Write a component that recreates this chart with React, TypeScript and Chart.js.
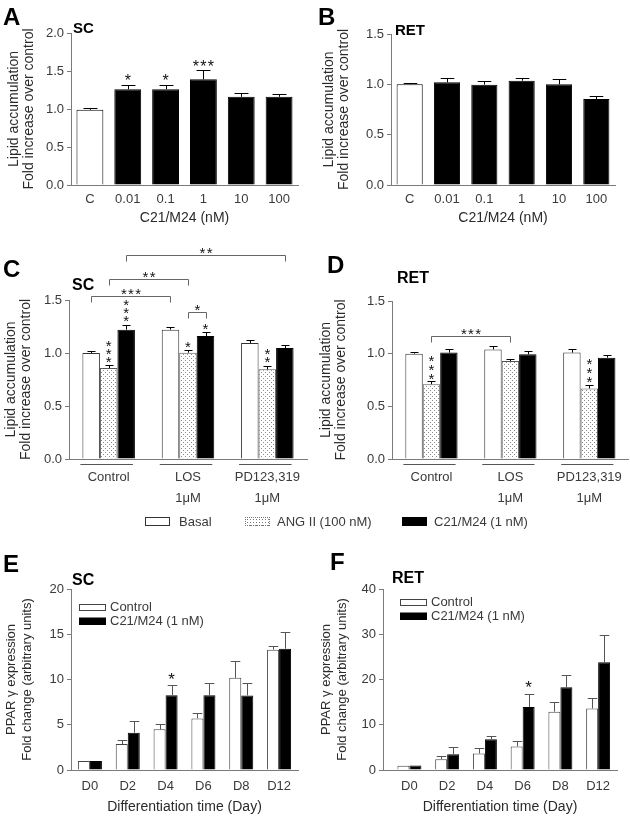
import React, { useEffect, useRef } from "react";
import { Chart, registerables } from "chart.js";
Chart.register(...registerables);

const FONT = "'Liberation Sans', Arial, Helvetica, sans-serif";
const AXIS = "#7a7a7a";
const TXT = "#3a3a3a";
const TICK = 13;

// ---------- Panels A / B : dose response ----------
const doseLabels = ["C", "0.01", "0.1", "1", "10", "100"];
const scDoseMean = [0.99, 1.26, 1.26, 1.39, 1.16, 1.16];
const scDoseErr = [0.02, 0.06, 0.06, 0.12, 0.045, 0.04];
const scDoseStars = [0, 1, 1, 3, 0, 0];
const retDoseMean = [1.0, 1.02, 0.997, 1.036, 1.0, 0.854];
const retDoseErr = [0.017, 0.046, 0.04, 0.03, 0.05, 0.033];

// ---------- Panels C / D : treatments ----------
const treatLabels = [["Control"], ["LOS", "1μM"], ["PD123,319", "1μM"]];
const seriesNames = ["Basal", "ANG II (100 nM)", "C21/M24 (1 nM)"];
const scBasal = [1.0, 1.22, 1.094];
const scBasalErr = [0.02, 0.03, 0.026];
const scAng = [0.858, 1.003, 0.846];
const scAngErr = [0.026, 0.027, 0.034];
const scAngStars = [3, 1, 2];
const scC21 = [1.22, 1.16, 1.047];
const scC21Err = [0.047, 0.04, 0.028];
const scC21Stars = [3, 1, 0];
const scBrackets = [
  { fromDs: 0, fromIdx: 0, toDs: 0, toIdx: 1, y: 1.54, stars: 3 },
  { fromDs: 1, fromIdx: 0, toDs: 1, toIdx: 1, y: 1.7, stars: 2 },
  { fromDs: 2, fromIdx: 0, toDs: 2, toIdx: 2, y: 1.925, stars: 2 },
  { fromDs: 1, fromIdx: 1, toDs: 2, toIdx: 1, y: 1.39, stars: 1 },
];
const retBasal = [1.0, 1.04, 1.01];
const retBasalErr = [0.016, 0.03, 0.03];
const retAng = [0.71, 0.93, 0.67];
const retAngErr = [0.03, 0.023, 0.037];
const retAngStars = [3, 0, 3];
const retC21 = [1.01, 0.994, 0.962];
const retC21Err = [0.03, 0.031, 0.028];
const retBrackets = [{ fromDs: 1, fromIdx: 0, toDs: 1, toIdx: 1, y: 1.165, stars: 3 }];

// ---------- Panels E / F : time course ----------
const timeLabels = ["D0", "D2", "D4", "D6", "D8", "D12"];
const timeNames = ["Control", "C21/M24 (1 nM)"];
const scCtrl = [1.0, 2.87, 4.49, 5.7, 10.18, 13.3];
const scCtrlErr = [0, 0.43, 0.58, 0.55, 1.88, 0.4];
const scC21Time = [1.0, 4.12, 8.27, 8.27, 8.24, 13.4];
const scC21TimeErr = [0, 1.32, 1.1, 1.29, 1.32, 1.86];
const scC21TimeStars = [0, 0, 1, 0, 0, 0];
const retCtrl = [0.95, 2.4, 3.66, 5.2, 12.9, 13.6];
const retCtrlErr = [0, 0.6, 1.14, 1.1, 2.2, 2.4];
const retC21Time = [1.0, 3.5, 6.8, 13.9, 18.3, 23.8];
const retC21TimeErr = [0, 1.6, 0.7, 2.9, 2.8, 6.1];
const retC21TimeStars = [0, 0, 0, 1, 0, 0];

const lipidTitle = ["Lipid accumulation", "Fold increase over control"];
const pparTitle = ["PPAR γ expression", "Fold change (arbitrary units)"];

function dotPattern(): any {
  const c = document.createElement("canvas");
  c.width = 4;
  c.height = 4;
  const g = c.getContext("2d")!;
  g.fillStyle = "#fff";
  g.fillRect(0, 0, 4, 4);
  g.fillStyle = "#8a8a8a";
  g.fillRect(1, 1, 1, 1);
  g.fillRect(3, 3, 1, 1);
  return g.createPattern(c, "repeat");
}

function val(d: any) {
  return typeof d === "number" ? d : d.y;
}

const errorBarPlugin = {
  id: "errbars",
  afterDatasetsDraw(chart: any) {
    const ctx = chart.ctx;
    const ys = chart.scales.y;
    chart.data.datasets.forEach((ds: any, di: number) => {
      if (!ds.errors) return;
      const meta = chart.getDatasetMeta(di);
      meta.data.forEach((el: any, i: number) => {
        const e = ds.errors[i];
        if (!e) return;
        const v = val(ds.data[i]);
        const yt = Math.round(ys.getPixelForValue(v + e)) + 0.5;
        const x = Math.round(el.x) + 0.5;
        const half = el.width * (ds.capRatio ?? 0.26);
        ctx.save();
        ctx.strokeStyle = ds.errColor || "#000";
        ctx.lineWidth = 1;
        ctx.beginPath();
        ctx.moveTo(x, el.y);
        ctx.lineTo(x, yt);
        ctx.moveTo(x - half, yt);
        ctx.lineTo(x + half, yt);
        ctx.stroke();
        ctx.restore();
      });
    });
  },
};

function drawStar(ctx: any, cx: number, cy: number, size: number) {
  ctx.font = `${size}px ${FONT}`;
  ctx.textAlign = "center";
  ctx.textBaseline = "alphabetic";
  ctx.fillText("*", cx, cy + 0.58 * size);
}

function deco(cfg: any) {
  return {
    id: "deco",
    afterDraw(chart: any) {
      const ctx = chart.ctx;
      const ys = chart.scales.y;
      const xs = chart.scales.x;
      ctx.save();
      ctx.fillStyle = "#111";
      const sf = cfg.starFont || 15;
      chart.data.datasets.forEach((ds: any, di: number) => {
        if (!ds.stars) return;
        const meta = chart.getDatasetMeta(di);
        meta.data.forEach((el: any, i: number) => {
          const n = ds.stars[i];
          if (!n) return;
          const top = ys.getPixelForValue(val(ds.data[i]) + ((ds.errors && ds.errors[i]) || 0));
          for (let k = 0; k < n; k++) {
            if (cfg.vertical) {
              drawStar(ctx, el.x, top - cfg.starGap - k * cfg.vStep, sf);
            } else {
              drawStar(ctx, el.x + (k - (n - 1) / 2) * cfg.hStep, top - cfg.starGap, sf);
            }
          }
        });
      });
      (cfg.brackets || []).forEach((b: any) => {
        const x1 = Math.round(chart.getDatasetMeta(b.fromDs).data[b.fromIdx].x) + 0.5;
        const x2 = Math.round(chart.getDatasetMeta(b.toDs).data[b.toIdx].x) + 0.5;
        const yy = Math.round(ys.getPixelForValue(b.y)) + 0.5;
        ctx.strokeStyle = "#666";
        ctx.lineWidth = 1;
        ctx.beginPath();
        ctx.moveTo(x1, yy + 6);
        ctx.lineTo(x1, yy);
        ctx.lineTo(x2, yy);
        ctx.lineTo(x2, yy + 6);
        ctx.stroke();
        for (let k = 0; k < b.stars; k++) {
          drawStar(ctx, (x1 + x2) / 2 + (k - (b.stars - 1) / 2) * cfg.hStep, yy - 6, sf);
        }
      });
      if (cfg.underline) {
        const metas = chart.data.datasets.map((_: any, i: number) => chart.getDatasetMeta(i));
        const nCat = chart.data.labels.length;
        ctx.strokeStyle = "#555";
        ctx.lineWidth = 1;
        for (let i = 0; i < nCat; i++) {
          const a = metas[0].data[i];
          const z = metas[metas.length - 1].data[i];
          const l = a.x - a.width / 2 - 2;
          const r = z.x + z.width / 2 - 2;
          const yy = Math.round(xs.top) + 5.5;
          ctx.beginPath();
          ctx.moveTo(l, yy);
          ctx.lineTo(r, yy);
          ctx.stroke();
        }
      }
      if (cfg.legend) {
        const L = cfg.legend;
        chart.data.datasets.forEach((ds: any, i: number) => {
          const cy = L.y + i * L.gap;
          ctx.fillStyle = ds.backgroundColor;
          ctx.fillRect(L.x, cy - 3.5, 27, 7);
          ctx.strokeStyle = ds.borderColor;
          ctx.lineWidth = 1;
          ctx.strokeRect(L.x + 0.5, Math.round(cy - 3.5) + 0.5, 26, 6);
          ctx.fillStyle = TXT;
          ctx.font = `13px ${FONT}`;
          ctx.textAlign = "left";
          ctx.textBaseline = "middle";
          ctx.fillText(ds.label, L.x + 31, cy);
        });
      }
      (cfg.texts || []).forEach((t: any) => {
        ctx.fillStyle = "#000";
        ctx.font = t.font;
        ctx.textAlign = "left";
        ctx.textBaseline = "alphabetic";
        ctx.fillText(t.t, t.x, t.y);
      });
      ctx.restore();
    },
  };
}

function yScale(max: number, step: number, decimals: number, width: number, title: string[], tSize: number, tPad: number, lh: number) {
  return {
    min: 0,
    max,
    ticks: {
      stepSize: step,
      callback: (v: any) => Number(v).toFixed(decimals),
      font: { family: FONT, size: TICK },
      color: TXT,
      padding: 3,
    },
    grid: { display: true, drawOnChartArea: false, drawTicks: true, tickLength: 4, color: AXIS },
    border: { display: true, color: AXIS },
    title: {
      display: true,
      text: title,
      color: "#2a2a2a",
      font: { family: FONT, size: tSize, lineHeight: lh },
      padding: { top: tPad, bottom: 0 },
    },
    afterFit: (s: any) => {
      s.width = width;
    },
  };
}

function xScale(height: number, pad: number, lh: number, title?: string, extra: any = {}) {
  return {
    type: "category",
    offset: true,
    grid: { display: false, drawTicks: false, tickLength: 0 },
    border: { display: true, color: AXIS },
    ticks: { padding: pad, font: { family: FONT, size: TICK, lineHeight: lh }, color: TXT, autoSkip: false, maxRotation: 0 },
    title: title
      ? { display: true, text: title, color: "#2a2a2a", font: { family: FONT, size: 14, lineHeight: 1.2 }, padding: { top: 0, bottom: 3 } }
      : { display: false },
    afterFit: (s: any) => {
      s.height = height;
    },
    ...extra,
  };
}

const baseOpts = (padding: any) => ({
  responsive: false,
  animation: false,
  devicePixelRatio: 1,
  layout: { padding },
  plugins: { legend: { display: false }, tooltip: { enabled: false } },
});

const BOLD = (s: number) => `bold ${s}px ${FONT}`;

export default function App() {
  const rA = useRef<HTMLCanvasElement>(null);
  const rB = useRef<HTMLCanvasElement>(null);
  const rC = useRef<HTMLCanvasElement>(null);
  const rD = useRef<HTMLCanvasElement>(null);
  const rE = useRef<HTMLCanvasElement>(null);
  const rF = useRef<HTMLCanvasElement>(null);

  useEffect(() => {
    const dots = dotPattern();
    const charts: Chart[] = [];
    const doseColors = doseLabels.map((_, i) => (i === 0 ? "#fff" : "#000"));

    charts.push(
      new Chart(rA.current!, {
        type: "bar",
        data: {
          labels: doseLabels,
          datasets: [
            {
              label: "SC",
              data: scDoseMean,
              errors: scDoseErr,
              stars: scDoseStars,
              backgroundColor: doseColors,
              borderColor: "#000",
              borderWidth: 1,
              barPercentage: 0.71,
              categoryPercentage: 1,
            } as any,
          ],
        },
        options: {
          ...baseOpts({ left: 0, top: 33, right: 17, bottom: 0 }),
          scales: { x: xScale(45, 7, 1.2, "C21/M24 (nM)"), y: yScale(2, 0.5, 1, 71, lipidTitle, 14, 6, 1.1) },
        } as any,
        plugins: [
          errorBarPlugin,
          deco({
            starGap: 8,
            hStep: 7.5,
            starFont: 16,
            texts: [
              { t: "A", x: 3, y: 25, font: BOLD(24) },
              { t: "SC", x: 73, y: 33, font: BOLD(15) },
            ],
          }),
        ],
      })
    );

    charts.push(
      new Chart(rB.current!, {
        type: "bar",
        data: {
          labels: doseLabels,
          datasets: [
            {
              label: "RET",
              data: retDoseMean,
              errors: retDoseErr,
              backgroundColor: doseColors,
              borderColor: "#000",
              borderWidth: 1,
              barPercentage: 0.7,
              categoryPercentage: 1,
            } as any,
          ],
        },
        options: {
          ...baseOpts({ left: 0, top: 34, right: 15, bottom: 0 }),
          scales: { x: xScale(45, 7, 1.2, "C21/M24 (nM)"), y: yScale(1.5, 0.5, 1, 76, lipidTitle, 14, 6, 1.1) },
        } as any,
        plugins: [
          errorBarPlugin,
          deco({
            starGap: 8,
            hStep: 7.5,
            texts: [
              { t: "B", x: 3, y: 25, font: BOLD(24) },
              { t: "RET", x: 80, y: 35, font: BOLD(15) },
            ],
          }),
        ],
      })
    );

    const treatSets = (b: number[], be: number[], a: number[], ae: number[], as: number[], c: number[], ce: number[], cs?: number[]) =>
      [
        { label: seriesNames[0], data: b, errors: be, backgroundColor: "#fff", borderColor: "#333", borderWidth: 1, capRatio: 0.23 },
        { label: seriesNames[1], data: a, errors: ae, stars: as, backgroundColor: dots, borderColor: "#555", borderWidth: 1, capRatio: 0.23 },
        { label: seriesNames[2], data: c, errors: ce, stars: cs, backgroundColor: "#000", borderColor: "#000", borderWidth: 1, capRatio: 0.23 },
      ].map((d) => ({ ...d, barPercentage: 1, categoryPercentage: 0.662 }));

    charts.push(
      new Chart(rC.current!, {
        type: "bar",
        data: {
          labels: treatLabels,
          datasets: treatSets(scBasal, scBasalErr, scAng, scAngErr, scAngStars, scC21, scC21Err, scC21Stars) as any,
        },
        options: {
          ...baseOpts({ left: 0, top: 65, right: 8, bottom: 0 }),
          scales: { x: xScale(56, 8, 1.6), y: yScale(1.5, 0.5, 1, 69, lipidTitle, 14, 3, 1.1) },
        } as any,
        plugins: [
          errorBarPlugin,
          deco({
            vertical: true,
            starGap: 7,
            vStep: 8,
            hStep: 7.2,
            starFont: 15,
            brackets: scBrackets,
            underline: true,
            texts: [
              { t: "C", x: 3, y: 42, font: BOLD(24) },
              { t: "SC", x: 72, y: 55, font: BOLD(16) },
            ],
          }),
        ],
      })
    );

    charts.push(
      new Chart(rD.current!, {
        type: "bar",
        data: {
          labels: treatLabels,
          datasets: treatSets(retBasal, retBasalErr, retAng, retAngErr, retAngStars, retC21, retC21Err) as any,
        },
        options: {
          ...baseOpts({ left: 0, top: 66, right: 1, bottom: 0 }),
          scales: { x: xScale(56, 8, 1.6), y: yScale(1.5, 0.5, 1, 77, lipidTitle, 14, 3, 1.1) },
        } as any,
        plugins: [
          errorBarPlugin,
          deco({
            vertical: true,
            starGap: 6,
            vStep: 9,
            hStep: 7.2,
            starFont: 15,
            brackets: retBrackets,
            underline: true,
            texts: [
              { t: "D", x: 12, y: 38, font: BOLD(24) },
              { t: "RET", x: 82, y: 48, font: BOLD(16) },
            ],
          }),
        ],
      })
    );

    const timeSets = (c: number[], ce: number[], t: number[], te: number[], ts: number[], linear: boolean) =>
      [
        { label: timeNames[0], data: c, errors: ce, backgroundColor: "#fff", borderColor: "#444", borderWidth: 1 },
        { label: timeNames[1], data: t, errors: te, stars: ts, backgroundColor: "#000", borderColor: "#000", borderWidth: 1 },
      ].map((d) => ({
        ...d,
        data: linear ? d.data.map((v, i) => ({ x: i, y: v })) : d.data,
        errColor: "#555",
        capRatio: 0.4,
        barPercentage: 1,
        categoryPercentage: 0.635,
      }));

    charts.push(
      new Chart(rE.current!, {
        type: "bar",
        data: { labels: timeLabels, datasets: timeSets(scCtrl, scCtrlErr, scC21Time, scC21TimeErr, scC21TimeStars, false) as any },
        options: {
          ...baseOpts({ left: 0, top: 44, right: 17, bottom: 0 }),
          scales: { x: xScale(49, 9, 1.2, "Differentiation time (Day)"), y: yScale(20, 5, 0, 71, pparTitle, 13, 4, 1.2) },
        } as any,
        plugins: [
          errorBarPlugin,
          deco({
            starGap: 10,
            hStep: 7.5,
            starFont: 17,
            legend: { x: 79, y: 62, gap: 14 },
            texts: [
              { t: "E", x: 3, y: 27, font: BOLD(24) },
              { t: "SC", x: 72, y: 40, font: BOLD(16) },
            ],
          }),
        ],
      })
    );

    charts.push(
      new Chart(rF.current!, {
        type: "bar",
        data: { datasets: timeSets(retCtrl, retCtrlErr, retC21Time, retC21TimeErr, retC21TimeStars, true) as any },
        options: {
          ...baseOpts({ left: 0, top: 44, right: 13, bottom: 0 }),
          scales: {
            x: xScale(49, 9, 1.2, "Differentiation time (Day)", {
              type: "linear",
              offset: false,
              min: -0.7,
              max: 5.5,
              ticks: {
                padding: 9,
                stepSize: 1,
                includeBounds: false,
                autoSkip: false,
                maxRotation: 0,
                font: { family: FONT, size: TICK, lineHeight: 1.2 },
                color: TXT,
                callback: (v: any) => (Number.isInteger(v) ? timeLabels[v] : null),
              },
            }),
            y: yScale(40, 10, 0, 68, pparTitle, 13, 4, 1.2),
          },
        } as any,
        plugins: [
          errorBarPlugin,
          deco({
            starGap: 11,
            hStep: 7.5,
            starFont: 17,
            legend: { x: 85, y: 57, gap: 14 },
            texts: [
              { t: "F", x: 15, y: 25, font: BOLD(24) },
              { t: "RET", x: 77, y: 38, font: BOLD(16) },
            ],
          }),
        ],
      })
    );

    return () => charts.forEach((c) => c.destroy());
  }, []);

  const cv = (ref: any, left: number, top: number, w: number, h: number) => (
    <canvas ref={ref} width={w} height={h} style={{ position: "absolute", left, top, width: w, height: h }} />
  );
  const legText: React.CSSProperties = { position: "absolute", top: 514, font: `13px ${FONT}`, color: TXT, lineHeight: "15px", whiteSpace: "nowrap" };
  const legBox = (left: number, bg: string, border: string, extra: React.CSSProperties = {}): React.CSSProperties => ({
    position: "absolute",
    left,
    top: 517,
    width: 25,
    height: 9,
    boxSizing: "border-box",
    background: bg,
    border: `1px solid ${border}`,
    ...extra,
  });

  return (
    <div style={{ position: "absolute", left: 0, top: 0, width: 630, height: 819, background: "#fff", overflow: "hidden" }}>
      {cv(rA, 0, 0, 315, 230)}
      {cv(rB, 315, 0, 315, 230)}
      {cv(rC, 0, 235, 315, 280)}
      {cv(rD, 315, 235, 315, 280)}
      {cv(rE, 0, 545, 315, 274)}
      {cv(rF, 315, 545, 315, 274)}
      <div style={legBox(145, "#fff", "#333")} />
      <span style={{ ...legText, left: 179 }}>{seriesNames[0]}</span>
      <div
        style={legBox(245, "#fff", "#777", {
          backgroundImage: "radial-gradient(#777 0.7px, transparent 0.8px)",
          backgroundSize: "3px 3px",
          borderStyle: "dotted",
        })}
      />
      <span style={{ ...legText, left: 277 }}>{seriesNames[1]}</span>
      <div style={legBox(402, "#000", "#000")} />
      <span style={{ ...legText, left: 434 }}>{seriesNames[2]}</span>
    </div>
  );
}
